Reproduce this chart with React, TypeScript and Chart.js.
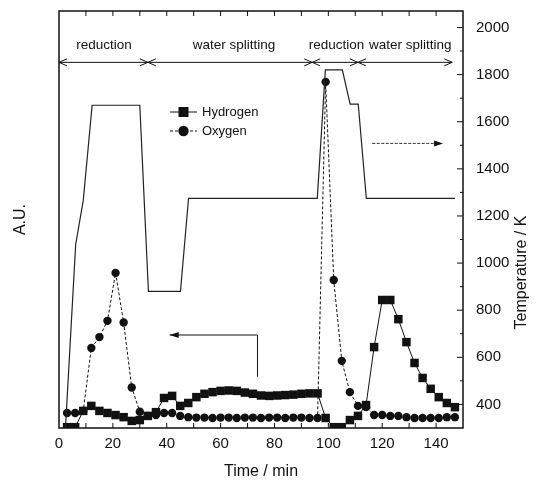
import React, { useEffect, useRef } from 'react';
import { Chart, registerables } from 'chart.js';

Chart.register(...registerables);

// ---------- data ----------
const times = [3, 6, 9, 12, 15, 18, 21, 24, 27, 30, 33, 36, 39, 42, 45, 48, 51, 54, 57, 60, 63, 66, 69, 72, 75, 78, 81, 84, 87, 90, 93, 96, 99, 102, 105, 108, 111, 114, 117, 120, 123, 126, 129, 132, 135, 138, 141, 144, 147];

const hydrogen = [0.2, 0.2, 4.1, 5.3, 4.1, 3.6, 3.1, 2.6, 1.7, 1.9, 2.9, 3.8, 7.2, 7.7, 5.3, 6.0, 7.4, 8.2, 8.6, 8.9, 9.0, 8.9, 8.5, 8.2, 7.8, 7.7, 7.8, 7.9, 8.0, 8.2, 8.3, 8.3, 2.4, 0.2, 0.2, 1.9, 2.9, 5.5, 19.4, 30.7, 30.7, 26.1, 20.6, 15.6, 12.0, 9.4, 7.4, 6.0, 5.0];

const oxygen = [3.6, 3.6, 4.1, 19.2, 21.8, 25.7, 37.2, 25.3, 9.7, 3.9, 2.9, 3.1, 3.6, 3.6, 2.9, 2.6, 2.5, 2.5, 2.4, 2.5, 2.5, 2.4, 2.5, 2.5, 2.4, 2.5, 2.5, 2.4, 2.5, 2.5, 2.4, 2.4, 83.0, 35.5, 16.1, 8.6, 5.3, 5.0, 3.1, 3.1, 2.9, 2.9, 2.6, 2.4, 2.4, 2.4, 2.4, 2.6, 2.6];

const tempTimes = [2.4, 6.2, 9.0, 12.3, 30.0, 33.2, 45.1, 48.1, 95.9, 98.9, 105.2, 108.1, 111.1, 114.1, 147.0];
const tempK = [300, 1080, 1265, 1670, 1670, 880, 880, 1275, 1275, 1820, 1820, 1675, 1675, 1275, 1275];

const xTickLabels = [0, 20, 40, 60, 80, 100, 120, 140];
const xMinorTicks = [10, 20, 30, 40, 50, 60, 70, 80, 90, 100, 110, 120, 130, 140];
const tempTickLabels = [400, 600, 800, 1000, 1200, 1400, 1600, 1800, 2000];
const tempMinorTicks = [400, 500, 600, 700, 800, 900, 1000, 1100, 1200, 1300, 1400, 1500, 1600, 1700, 1800, 1900, 2000];

const phaseBounds = [0, 33, 94, 111, 146];
const phaseLabels = ['reduction', 'water splitting', 'reduction', 'water splitting'];
const phaseLabelX = [16.7, 65, 103, 130.4];
const phaseArrowK = 1852;
const phaseLabelK = 1925;

// arrow pointing to the left axis (A.U.)
const leftArrowX = [73.7, 73.7, 41.1];
const leftArrowY = [12.3, 22.3, 22.3];
// arrow pointing to the right axis (K)
const rightArrowX = [116.3, 142.6];
const rightArrowK = 1508;

const FONT = "'Liberation Sans', Arial, Helvetica, sans-serif";
const INK = '#111';

const drawPlugin = {
  id: 'figureDecor',
  afterDatasetsDraw(chart: any) {
    const { ctx, chartArea: ca, scales } = chart;
    const xs = scales.x, ys = scales.y, yt = scales.y1;
    const seg = (x1: number, y1: number, x2: number, y2: number) => {
      ctx.beginPath(); ctx.moveTo(x1, y1); ctx.lineTo(x2, y2); ctx.stroke();
    };
    ctx.save();
    ctx.strokeStyle = INK;
    ctx.fillStyle = INK;
    // frame
    ctx.lineWidth = 1.5;
    ctx.strokeRect(ca.left, ca.top, ca.right - ca.left, ca.bottom - ca.top);
    // inward ticks
    ctx.lineWidth = 1;
    for (const v of xMinorTicks) {
      const px = xs.getPixelForValue(v);
      seg(px, ca.bottom, px, ca.bottom - 5);
      seg(px, ca.top, px, ca.top + 5);
    }
    for (const v of tempMinorTicks) {
      const py = yt.getPixelForValue(v);
      const len = tempTickLabels.includes(v) ? 6 : 3;
      seg(ca.right, py, ca.right - len, py);
    }
    // phase arrows
    const ay = yt.getPixelForValue(phaseArrowK);
    const ly = yt.getPixelForValue(phaseLabelK);
    ctx.font = `13.5px ${FONT}`;
    ctx.textAlign = 'center';
    ctx.textBaseline = 'middle';
    for (let i = 0; i < phaseLabels.length; i++) {
      const xa = xs.getPixelForValue(phaseBounds[i]);
      const xb = xs.getPixelForValue(phaseBounds[i + 1]);
      ctx.lineWidth = 1;
      seg(xa, ay, xb, ay);
      ctx.beginPath();
      ctx.moveTo(xa + 8, ay - 3.5); ctx.lineTo(xa, ay); ctx.lineTo(xa + 8, ay + 3.5);
      ctx.moveTo(xb - 8, ay - 3.5); ctx.lineTo(xb, ay); ctx.lineTo(xb - 8, ay + 3.5);
      ctx.stroke();
      ctx.fillText(phaseLabels[i], xs.getPixelForValue(phaseLabelX[i]), ly);
    }
    // left arrow (to A.U. axis)
    ctx.lineWidth = 1;
    ctx.beginPath();
    for (let i = 0; i < leftArrowX.length; i++) {
      const px = xs.getPixelForValue(leftArrowX[i]);
      const py = ys.getPixelForValue(leftArrowY[i]);
      if (i === 0) ctx.moveTo(px, py); else ctx.lineTo(px, py);
    }
    ctx.stroke();
    {
      const px = xs.getPixelForValue(leftArrowX[leftArrowX.length - 1]);
      const py = ys.getPixelForValue(leftArrowY[leftArrowY.length - 1]);
      ctx.beginPath();
      ctx.moveTo(px, py); ctx.lineTo(px + 9, py - 3); ctx.lineTo(px + 9, py + 3); ctx.closePath();
      ctx.fill();
    }
    // right arrow (to temperature axis)
    {
      const x1 = xs.getPixelForValue(rightArrowX[0]);
      const x2 = xs.getPixelForValue(rightArrowX[1]);
      const py = yt.getPixelForValue(rightArrowK);
      ctx.strokeStyle = '#333';
      ctx.setLineDash([3, 1.5]);
      seg(x1, py, x2 - 6, py);
      ctx.setLineDash([]);
      ctx.beginPath();
      ctx.moveTo(x2, py); ctx.lineTo(x2 - 9, py - 3); ctx.lineTo(x2 - 9, py + 3); ctx.closePath();
      ctx.fill();
    }
    // legend
    ctx.strokeStyle = INK;
    const entries = [chart.data.datasets[1], chart.data.datasets[2]];
    ctx.font = `13px ${FONT}`;
    ctx.textAlign = 'left';
    ctx.textBaseline = 'middle';
    entries.forEach((ds: any, i: number) => {
      const ry = ca.top + 101 + i * 19;
      const lx1 = ca.left + 111, lx2 = ca.left + 138, mx = ca.left + 124.5;
      ctx.lineWidth = 1;
      ctx.setLineDash(ds.borderDash || []);
      seg(lx1, ry, lx2, ry);
      ctx.setLineDash([]);
      ctx.beginPath();
      if (ds.pointStyle === 'rect') {
        ctx.rect(mx - 5, ry - 5, 10, 10);
      } else {
        ctx.arc(mx, ry, 5.2, 0, Math.PI * 2);
      }
      ctx.fill();
      ctx.fillText(ds.label, ca.left + 143, ry + 0.5);
    });
    ctx.restore();
  },
  afterDraw(chart: any) {
    const { ctx, chartArea: ca } = chart;
    ctx.save();
    ctx.fillStyle = INK;
    ctx.font = `16px ${FONT}`;
    ctx.textAlign = 'center';
    ctx.textBaseline = 'middle';
    ctx.translate(ca.right + 59, (ca.top + ca.bottom) / 2 + 53);
    ctx.rotate(-Math.PI / 2);
    ctx.fillText('Temperature / K', 0, 0);
    ctx.restore();
  },
};

export default function App() {
  const ref = useRef<HTMLCanvasElement | null>(null);
  useEffect(() => {
    if (!ref.current) return;
    const chart = new Chart(ref.current, {
      type: 'line',
      data: {
        datasets: [
          {
            label: 'Temperature',
            data: tempTimes.map((t, i) => ({ x: t, y: tempK[i] })),
            yAxisID: 'y1',
            borderColor: '#222',
            borderWidth: 1.2,
            pointRadius: 0,
            tension: 0,
          },
          {
            label: 'Hydrogen',
            data: times.map((t, i) => ({ x: t, y: hydrogen[i] })),
            yAxisID: 'y',
            borderColor: INK,
            backgroundColor: INK,
            borderWidth: 1,
            pointStyle: 'rect',
            pointRadius: 6,
            pointBorderWidth: 0,
            tension: 0,
          },
          {
            label: 'Oxygen',
            data: times.map((t, i) => ({ x: t, y: oxygen[i] })),
            yAxisID: 'y',
            borderColor: INK,
            backgroundColor: INK,
            borderWidth: 1,
            borderDash: [3, 2],
            pointStyle: 'circle',
            pointRadius: 4.2,
            pointBorderWidth: 0,
            tension: 0,
          },
        ],
      } as any,
      options: {
        responsive: false,
        animation: false,
        layout: { padding: { top: 11, left: 0, right: 0, bottom: 0 } },
        plugins: { legend: { display: false }, tooltip: { enabled: false } },
        scales: {
          x: {
            type: 'linear',
            min: 0,
            max: 150,
            afterBuildTicks: (s: any) => { s.ticks = xTickLabels.map((v) => ({ value: v })); },
            afterFit: (s: any) => { s.height = 53; s.paddingLeft = 0; s.paddingRight = 0; },
            grid: { display: false, drawTicks: false },
            border: { display: false },
            ticks: { padding: 7, color: INK, font: { size: 15, family: FONT }, maxRotation: 0, autoSkip: false, callback: (v: any) => String(v) },
            title: { display: true, text: 'Time / min', color: INK, font: { size: 16, family: FONT }, padding: { top: 0, bottom: 0 } },
          },
          y: {
            position: 'left',
            min: 0,
            max: 100,
            afterFit: (s: any) => { s.width = 59; s.paddingTop = 0; s.paddingBottom = 0; },
            grid: { display: false, drawTicks: false },
            border: { display: false },
            ticks: { display: false },
            title: { display: true, text: 'A.U.', color: INK, font: { size: 16, family: FONT }, padding: { top: 11, bottom: 0 } },
          },
          y1: {
            position: 'right',
            min: 300,
            max: 2070,
            afterBuildTicks: (s: any) => { s.ticks = tempTickLabels.map((v) => ({ value: v })); },
            afterFit: (s: any) => { s.width = 77; s.paddingTop = 0; s.paddingBottom = 0; },
            grid: { display: false, drawTicks: false },
            border: { display: false },
            ticks: { padding: 13, color: INK, font: { size: 15, family: FONT }, callback: (v: any) => String(v) },
          },
        },
      } as any,
      plugins: [drawPlugin],
    });
    return () => chart.destroy();
  }, []);
  return (
    <div style={{ position: 'fixed', left: 0, top: 0, width: 540, height: 481, background: '#fff' }}>
      <canvas ref={ref} width={540} height={481} style={{ width: 540, height: 481, display: 'block' }} />
    </div>
  );
}
